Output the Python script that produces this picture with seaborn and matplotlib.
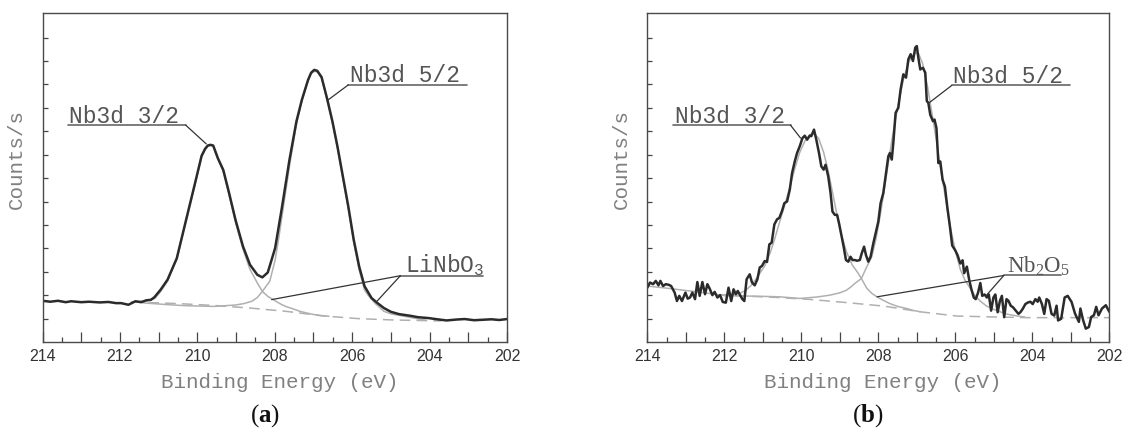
import matplotlib
matplotlib.use("Agg")
import matplotlib.pyplot as plt
import seaborn as sns

# ---- panel (a): LiNbO3, smooth spectrum ----
a_energy = [214.0, 213.8, 213.6, 213.4, 213.26, 213.0, 212.8, 212.52, 212.3, 212.1,
            211.97, 211.78, 211.6, 211.45, 211.32, 211.2, 211.11, 210.95, 210.77, 210.53,
            210.3, 210.07, 209.89, 209.8, 209.73, 209.66, 209.59, 209.53, 209.47, 209.33,
            209.19, 209.01, 208.82, 208.64, 208.45, 208.32, 208.18, 207.99, 207.81, 207.62,
            207.44, 207.3, 207.14, 207.06, 206.98, 206.9, 206.79, 206.65, 206.51, 206.38,
            206.24, 206.1, 205.96, 205.82, 205.68, 205.5, 205.36, 205.18, 205.0, 204.79,
            204.5, 204.3, 204.02, 203.8, 203.56, 203.3, 203.09, 202.85, 202.63, 202.4,
            202.2, 202.0]
a_counts = [1.76, 1.72, 1.76, 1.70, 1.74, 1.70, 1.72, 1.69, 1.71, 1.66,
            1.66, 1.59, 1.74, 1.70, 1.78, 1.80, 1.91, 2.23, 2.66, 3.58,
            5.15, 6.71, 7.95, 8.25, 8.39, 8.42, 8.39, 8.12, 7.85, 7.35,
            6.43, 5.19, 4.08, 3.30, 2.87, 2.76, 2.97, 4.01, 5.79, 7.78,
            9.42, 10.34, 11.19, 11.5, 11.62, 11.58, 11.31, 10.41, 9.42, 8.35,
            7.07, 5.79, 4.37, 3.23, 2.38, 1.88, 1.68, 1.45, 1.29, 1.19,
            1.12, 1.06, 1.02, 0.97, 0.92, 0.96, 0.98, 0.93, 0.95, 0.97,
            0.94, 0.98]

a_p32_energy = [211.7, 211.3, 211.1, 210.95, 210.77, 210.53, 210.3, 210.07, 209.89, 209.8,
                209.73, 209.66, 209.59, 209.47, 209.33, 209.19, 209.01, 208.82, 208.64, 208.45,
                208.32, 208.18, 208.04, 207.88, 207.72, 207.5, 207.35, 207.15, 206.98, 206.8,
                206.6]
a_p32_counts = [1.71, 1.76, 1.86, 2.15, 2.6, 3.55, 5.1, 6.66, 7.9, 8.2,
                8.36, 8.4, 8.36, 7.82, 7.28, 6.36, 5.1, 3.96, 3.1, 2.52,
                2.16, 1.95, 1.81, 1.65, 1.52, 1.4, 1.31, 1.23, 1.17, 1.13,
                1.1]

a_p52_energy = [211.4, 210.8, 210.3, 209.56, 209.01, 208.8, 208.59, 208.45, 208.32, 208.13,
                207.99, 207.9, 207.81, 207.62, 207.44, 207.3, 207.14, 207.06, 206.98, 206.9,
                206.79, 206.65, 206.51, 206.38, 206.24, 206.1, 205.96, 205.82, 205.68, 205.58,
                205.4, 205.18, 204.99, 204.79, 204.4, 204.1]
a_p52_counts = [1.67, 1.6, 1.55, 1.52, 1.58, 1.64, 1.74, 1.9, 2.16, 2.59,
                3.5, 4.4, 5.4, 7.5, 9.3, 10.28, 11.15, 11.46, 11.56, 11.53,
                11.26, 10.36, 9.36, 8.28, 6.98, 5.7, 4.26, 3.08, 2.22, 1.98,
                1.64, 1.31, 1.2, 1.14, 1.02, 0.93]

a_base_energy = [211.7, 210.5, 209.56, 208.64, 207.71, 206.79, 205.86, 204.94, 204.02, 203.7]
a_base_counts = [1.71, 1.64, 1.56, 1.45, 1.31, 1.12, 1.0, 0.94, 0.91, 0.9]

# ---- panel (b): Nb2O5, noisy spectrum ----
b_energy = [214.0, 213.93, 213.85, 213.78, 213.71, 213.66, 213.59, 213.52, 213.44, 213.38,
            213.29, 213.23, 213.17, 213.1, 213.01, 212.95, 212.89, 212.83, 212.76, 212.7,
            212.64, 212.57, 212.5, 212.44, 212.38, 212.31, 212.25, 212.18, 212.11, 212.04,
            211.96, 211.89, 211.82, 211.76, 211.7, 211.65, 211.59, 211.53, 211.48, 211.42,
            211.34, 211.28, 211.21, 211.14, 211.08, 211.02, 210.95, 210.89, 210.83, 210.77,
            210.7, 210.63, 210.57, 210.5, 210.44, 210.37, 210.3, 210.24, 210.17, 210.11,
            210.04, 209.97, 209.91, 209.85, 209.78, 209.74, 209.67, 209.61, 209.54, 209.48,
            209.42, 209.37, 209.3, 209.24, 209.19, 209.13, 209.07, 209.02, 208.96, 208.9,
            208.84, 208.78, 208.72, 208.67, 208.61, 208.55, 208.48, 208.43, 208.37, 208.32,
            208.26, 208.2, 208.13, 208.06, 208.0, 207.94, 207.87, 207.8, 207.74, 207.7,
            207.65, 207.61, 207.55, 207.48, 207.42, 207.35, 207.28, 207.22, 207.16, 207.1,
            207.04, 207.0, 206.96, 206.91, 206.84, 206.78, 206.74, 206.7, 206.65, 206.58,
            206.54, 206.49, 206.44, 206.39, 206.33, 206.27, 206.21, 206.14, 206.08, 206.0,
            205.94, 205.87, 205.81, 205.77, 205.7, 205.64, 205.58, 205.52, 205.47, 205.41,
            205.35, 205.3, 205.24, 205.18, 205.13, 205.07, 205.01, 204.96, 204.9, 204.84,
            204.79, 204.73, 204.67, 204.62, 204.56, 204.5, 204.43, 204.36, 204.31, 204.25,
            204.18, 204.11, 204.05, 203.99, 203.92, 203.86, 203.82, 203.75, 203.69, 203.63,
            203.57, 203.5, 203.43, 203.37, 203.33, 203.25, 203.16, 203.08, 202.98, 202.89,
            202.79, 202.75, 202.68, 202.61, 202.53, 202.47, 202.4, 202.34, 202.28, 202.19,
            202.09, 202.0]
b_counts = [2.32, 2.54, 2.47, 2.61, 2.42, 2.61, 2.39, 2.47, 2.44, 2.39,
            2.11, 1.75, 1.97, 1.75, 2.11, 1.85, 1.9, 2.11, 1.83, 2.56,
            1.97, 2.56, 2.04, 2.47, 2.28, 2.0, 2.14, 1.9, 2.0, 1.71,
            1.68, 2.32, 1.75, 2.25, 2.04, 2.18, 2.0, 1.83, 1.75, 2.68,
            2.89, 2.54, 2.42, 2.68, 3.18, 3.25, 3.46, 3.42, 4.17, 4.24,
            5.02, 5.24, 5.3, 5.6, 5.93, 6.0, 6.5, 7.21, 7.71, 8.07,
            8.36, 8.71, 8.81, 8.64, 8.81, 8.79, 9.07, 8.64, 8.07, 7.5,
            7.36, 7.57, 7.07, 6.36, 5.57, 5.43, 5.43, 5.07, 4.57, 4.07,
            3.5, 3.43, 3.64, 3.5, 3.5, 3.47, 3.5, 3.79, 4.07, 3.71,
            3.43, 3.64, 4.21, 4.71, 5.14, 5.93, 6.36, 7.21, 7.93, 8.07,
            7.79, 8.5, 9.79, 10.0, 10.79, 11.43, 11.29, 12.07, 12.29, 12.0,
            12.57, 12.64, 12.14, 11.64, 11.71, 11.5, 10.29, 10.21, 9.7, 9.43,
            9.5, 9.14, 7.64, 7.71, 6.93, 6.64, 5.79, 4.93, 4.12, 3.91,
            3.7, 3.35, 3.49, 2.94, 3.22, 2.66, 2.24, 1.9, 1.83, 2.1,
            2.52, 1.97, 2.03, 1.9, 2.03, 1.34, 1.9, 2.03, 1.27, 1.76,
            1.97, 1.06, 1.83, 1.76, 1.55, 1.48, 1.34, 1.2, 1.27, 1.41,
            1.62, 1.69, 1.72, 1.62, 1.83, 1.72, 1.9, 1.62, 1.2, 1.83,
            1.76, 1.2, 1.13, 1.55, 0.92, 0.99, 1.9, 1.97, 1.71, 1.21,
            0.86, 1.43, 0.93, 0.57, 0.64, 1.07, 1.14, 1.5, 1.14, 1.43,
            1.57, 1.29]

b_p32_energy = [214.0, 213.5, 213.0, 212.5, 212.15, 211.8, 211.6, 211.45, 211.3, 211.15,
                210.95, 210.8, 210.7, 210.55, 210.44, 210.3, 210.17, 210.04, 209.9, 209.78,
                209.67, 209.55, 209.42, 209.3, 209.19, 209.07, 208.96, 208.83, 208.68, 208.52,
                208.44, 208.3, 208.17, 208.04, 207.87, 207.7, 207.5, 207.26, 207.1, 206.91]
b_p32_counts = [2.39, 2.3, 2.2, 2.1, 2.02, 2.02, 2.08, 2.2, 2.42, 2.75,
                3.25, 3.85, 4.35, 5.2, 5.8, 6.6, 7.4, 8.1, 8.6, 8.85,
                8.9, 8.7, 8.1, 7.3, 6.4, 5.4, 4.6, 3.86, 3.3, 2.93,
                2.71, 2.3, 2.08, 1.93, 1.78, 1.64, 1.52, 1.43, 1.35, 1.29]

b_p52_energy = [212.0, 211.0, 210.57, 210.04, 209.6, 209.26, 209.0, 208.83, 208.72, 208.61,
                208.44, 208.3, 208.17, 208.06, 207.94, 207.8, 207.65, 207.5, 207.35, 207.2,
                207.05, 206.95, 206.85, 206.72, 206.6, 206.49, 206.38, 206.27, 206.14, 206.0,
                205.87, 205.75, 205.62, 205.5, 205.36, 205.2, 205.03, 204.85, 204.69, 204.5,
                204.35, 204.2]
b_p52_counts = [1.98, 1.95, 1.93, 1.86, 1.92, 2.0, 2.1, 2.21, 2.34, 2.5,
                2.71, 3.21, 3.64, 4.4, 5.5, 7.0, 8.6, 10.0, 11.2, 12.0,
                12.35, 12.3, 11.9, 10.9, 9.7, 8.6, 7.4, 6.3, 5.0, 3.9,
                3.1, 2.65, 2.31, 2.0, 1.76, 1.55, 1.41, 1.3, 1.2, 1.14,
                1.1, 1.07]

b_base_energy = [212.15, 211.59, 210.6, 209.72, 208.8, 207.84, 206.91, 205.97, 205.04, 204.1, 202.0]
b_base_counts = [2.0, 1.97, 1.9, 1.81, 1.68, 1.53, 1.29, 1.11, 1.07, 1.04, 1.04]

# axis ticks
x_major = [214, 213, 212, 211, 210, 209, 208, 207, 206, 205, 204, 203, 202]
x_labels = ["214", "", "212", "", "210", "", "208", "", "206", "", "204", "", "202"]
x_minor = [213.5, 212.5, 211.5, 210.5, 209.5, 208.5, 207.5, 206.5, 205.5, 204.5, 203.5, 202.5]
y_ticks = [1, 2, 3, 4, 5, 6, 7, 8, 9, 10, 11, 12, 13]

# annotations: (text, text_x, text_y, underline x0, x1, underline y, leader start x, leader targets)
a_notes = [
    ("Nb3d 3/2", 213.31, 9.36, 213.35, 210.30, 9.26, 210.30, [(209.77, 8.46)]),
    ("Nb3d 5/2", 206.05, 11.09, 206.10, 203.03, 10.98, 206.10, [(206.62, 10.34)]),
    ("LiNbO$_\\mathregular{3}$", 204.64, 3.0, 204.755, 202.61, 2.83, 204.755,
     [(208.08, 1.81), (205.36, 1.74)]),
]
b_notes = [
    ("Nb3d 3/2", 213.29, 9.37, 213.32, 210.28, 9.26, 210.28, [(210.02, 8.71)]),
    ("Nb3d 5/2", 206.05, 11.07, 206.09, 203.03, 10.96, 206.09, [(206.70, 10.19)]),
    ("Nb$_\\mathregular{2}$O$_\\mathregular{5}$", 204.66, 3.0, 204.74, 203.26, 2.84, 204.74,
     [(208.03, 1.93), (205.21, 1.96)]),
]

sns.set_style("white")
plt.rcParams["font.family"] = ["Liberation Sans", "DejaVu Sans"]
plt.rcParams["mathtext.fontset"] = "custom"
plt.rcParams["mathtext.bf"] = "Liberation Serif:bold"
plt.rcParams["mathtext.rm"] = "Liberation Serif"

fig = plt.figure(figsize=(11.25, 4.32), dpi=100)
ax_a = fig.add_axes([42.5 / 1125, 90 / 432, 464.5 / 1125, 329 / 432])
ax_b = fig.add_axes([647.3 / 1125, 90 / 432, 462 / 1125, 329 / 432])

dark = "#2b2b2b"
light = "#b0b0b0"


def draw_panel(ax, energy, counts, p32_e, p32_c, p52_e, p52_c, base_e, base_c, notes, note_font):
    sns.lineplot(x=base_e, y=base_c, ax=ax, color=light, lw=1.1, linestyle=(0, (7, 4)),
                 estimator=None, sort=False)
    sns.lineplot(x=p32_e, y=p32_c, ax=ax, color=light, lw=1.1, estimator=None, sort=False)
    sns.lineplot(x=p52_e, y=p52_c, ax=ax, color=light, lw=1.1, estimator=None, sort=False)
    sns.lineplot(x=energy, y=counts, ax=ax, color=dark, lw=1.8, estimator=None, sort=False)

    ax.set_xlim(214, 202)
    ax.set_ylim(0, 14.05)
    ax.set_xticks(x_major)
    ax.set_xticklabels(x_labels)
    ax.set_xticks(x_minor, minor=True)
    ax.set_yticks(y_ticks)
    ax.set_yticklabels([])
    ax.tick_params(axis="x", which="major", direction="in", length=7, width=0.9, bottom=True,
                   top=False, color="#444444", labelsize=11.5, labelcolor="#333333", pad=5)
    ax.tick_params(axis="x", which="minor", direction="in", length=3.5, width=0.9, bottom=True,
                   top=False, color="#444444")
    ax.tick_params(axis="y", which="major", direction="in", length=3.5, width=0.9, left=True,
                   right=False, color="#444444")
    for s in ax.spines.values():
        s.set_visible(True)
        s.set_color("#4a4a4a")
        s.set_linewidth(1.0)

    ax.set_xlabel("Binding Energy (eV)", family="Liberation Mono", fontsize=15, color="#808080")
    ax.set_ylabel("Counts/s", family="Liberation Mono", fontsize=15, color="#808080")
    ax.xaxis.set_label_coords(0.51, -0.095)
    ax.yaxis.set_label_coords(-0.035, 0.556)

    for text, tx, ty, lx0, lx1, ly, sx, targets in notes:
        fam = note_font if "$" in text else "Liberation Mono"
        ax.text(tx, ty, text, family=fam, fontsize=16.5, color="#555555", ha="left", va="baseline")
        ax.plot([lx0, lx1], [ly, ly], color="#666666", lw=1.2)
        for t_x, t_y in targets:
            ax.plot([sx, t_x], [ly, t_y], color="#333333", lw=0.9)


draw_panel(ax_a, a_energy, a_counts, a_p32_energy, a_p32_counts, a_p52_energy, a_p52_counts,
           a_base_energy, a_base_counts, a_notes, "Liberation Mono")
draw_panel(ax_b, b_energy, b_counts, b_p32_energy, b_p32_counts, b_p52_energy, b_p52_counts,
           b_base_energy, b_base_counts, b_notes, "Liberation Serif")

fig.text(265 / 1125, 1 - 416 / 432, r"($\mathbf{a}$)", ha="center", va="center",
         fontsize=18, family="Liberation Serif", color="#111111")
fig.text(868 / 1125, 1 - 416 / 432, r"($\mathbf{b}$)", ha="center", va="center",
         fontsize=18, family="Liberation Serif", color="#111111")

fig.savefig("out.png", dpi=100)
